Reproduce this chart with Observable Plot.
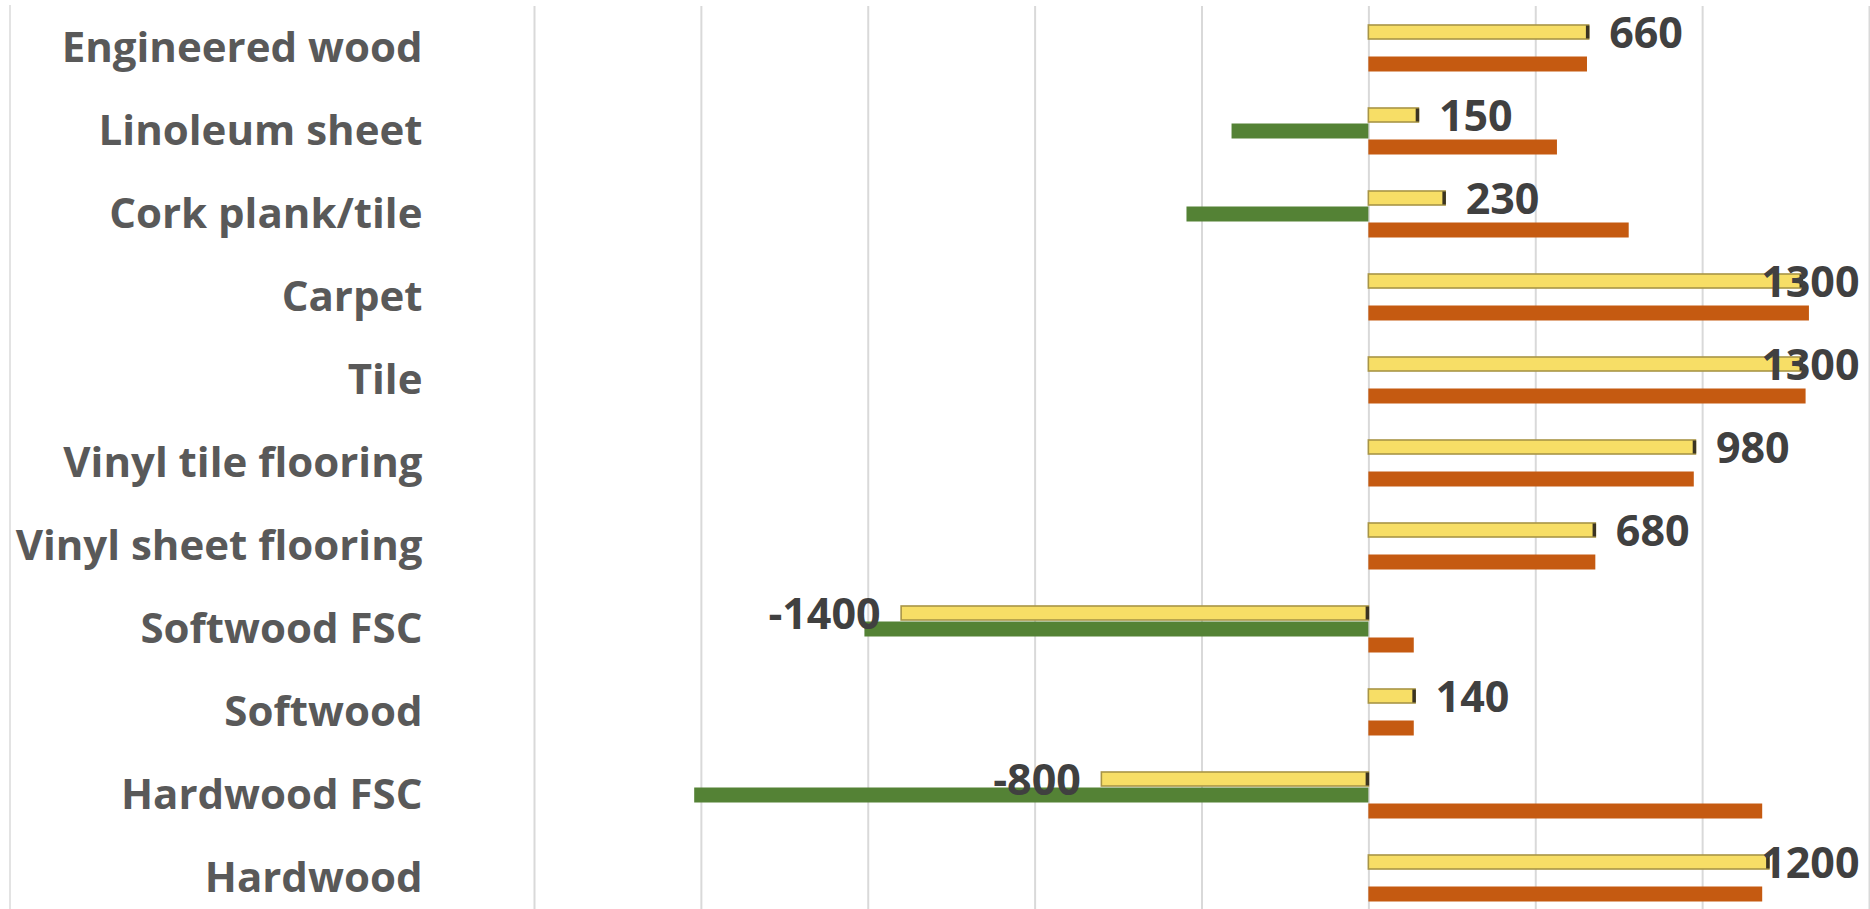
<!DOCTYPE html>
<html>
<head>
<meta charset="utf-8">
<script src="https://cdn.jsdelivr.net/npm/d3@7"></script>
<script src="https://cdn.jsdelivr.net/npm/@observablehq/plot@0.6"></script>
<style>
  html, body { margin: 0; padding: 0; background: #ffffff; overflow: hidden; }
  #wrap { position: relative; width: 1870px; height: 909px; overflow: hidden; }
  #edge { position: absolute; left: 9px; top: 5px; bottom: 0; width: 2px; background: #E3E3E3; }
  #chart { position: absolute; left: 0; top: 0; }
</style>
</head>
<body>
<div id="wrap"><div id="edge"></div><div id="chart"></div></div>
<script>
// Categories, top to bottom
const categories = [
  "Engineered wood", "Linoleum sheet", "Cork plank/tile", "Carpet", "Tile",
  "Vinyl tile flooring", "Vinyl sheet flooring", "Softwood FSC", "Softwood",
  "Hardwood FSC", "Hardwood"
];
// Series order inside each category (top to bottom)
const seriesNames = ["yellow", "green", "orange"];
// Labelled series (yellow)
const yellowValues = [660, 150, 230, 1300, 1300, 980, 680, -1400, 140, -800, 1200];
// Green series (negative only, 0 = no bar)
const greenValues = [0, -410, -545, 0, 0, 0, 0, -1510, 0, -2020, 0];
// Orange series
const orangeValues = [655, 565, 780, 1320, 1310, 975, 680, 136, 136, 1180, 1180];
// Gridline ticks
const gridTicks = [-2500, -2000, -1500, -1000, -500, 0, 500, 1000, 1500];

const seriesColors = { yellow: "#F7DE66", green: "#548235", orange: "#C55A11" };

const rows = [];
categories.forEach((c, i) => {
  rows.push({ category: c, series: "yellow", value: yellowValues[i] });
  rows.push({ category: c, series: "green", value: greenValues[i] });
  rows.push({ category: c, series: "orange", value: orangeValues[i] });
});
const yellowRows = rows.filter(d => d.series === "yellow");
const otherRows = rows.filter(d => d.series !== "yellow" && d.value !== 0);
const labelLimit = 1100; // beyond this, the label is pulled inside the right edge

const labelStyle = { fontSize: 43, fontWeight: "bold", fill: "#404040", dy: 2 };

const chart = Plot.plot({
  width: 1870,
  height: 920,
  marginLeft: 534,
  marginRight: 1,
  marginTop: 4,
  marginBottom: 0,
  style: { fontFamily: "'Open Sans', sans-serif", background: "transparent", overflow: "visible" },
  x: { domain: [-2500, 1500], axis: null },
  y: { domain: seriesNames, axis: null, paddingInner: 0, paddingOuter: 1.08 },
  fy: { domain: categories, padding: 0, label: null },
  marks: [
    Plot.ruleX(gridTicks, { stroke: "#D9D9D9", strokeWidth: 2 }),
    Plot.barX(otherRows, {
      x: "value", y: "series", fy: "category",
      fill: d => seriesColors[d.series], insetTop: 0.5, insetBottom: 0.5
    }),
    Plot.barX(yellowRows, {
      x: "value", y: "series", fy: "category",
      fill: seriesColors.yellow, stroke: "#A89546", strokeWidth: 1.6,
      insetTop: 1, insetBottom: 1
    }),
    Plot.tickX(yellowRows, {
      x: d => Math.max(0, d.value), y: "series", fy: "category",
      stroke: "#3B3422", strokeWidth: 3.5, dx: -1.5, insetTop: 1.5, insetBottom: 1.5
    }),
    Plot.text(yellowRows.filter(d => d.value >= 0 && d.value <= labelLimit), {
      x: "value", y: "series", fy: "category", text: d => String(d.value),
      textAnchor: "start", dx: 20, ...labelStyle
    }),
    Plot.text(yellowRows.filter(d => d.value < 0), {
      x: "value", y: "series", fy: "category", text: d => String(d.value),
      textAnchor: "end", ...labelStyle, dx: -21
    }),
    Plot.text(yellowRows.filter(d => d.value > labelLimit), {
      y: "series", fy: "category", text: d => String(d.value),
      frameAnchor: "right", textAnchor: "end", ...labelStyle, dx: -10
    }),
    Plot.axisFy({
      anchor: "left", tickSize: 0, tickPadding: 112, label: null,
      fontSize: 42, fontWeight: "bold", color: "#595959", dy: 1
    })
  ]
});
document.getElementById("chart").appendChild(chart);
</script>
</body>
</html>
